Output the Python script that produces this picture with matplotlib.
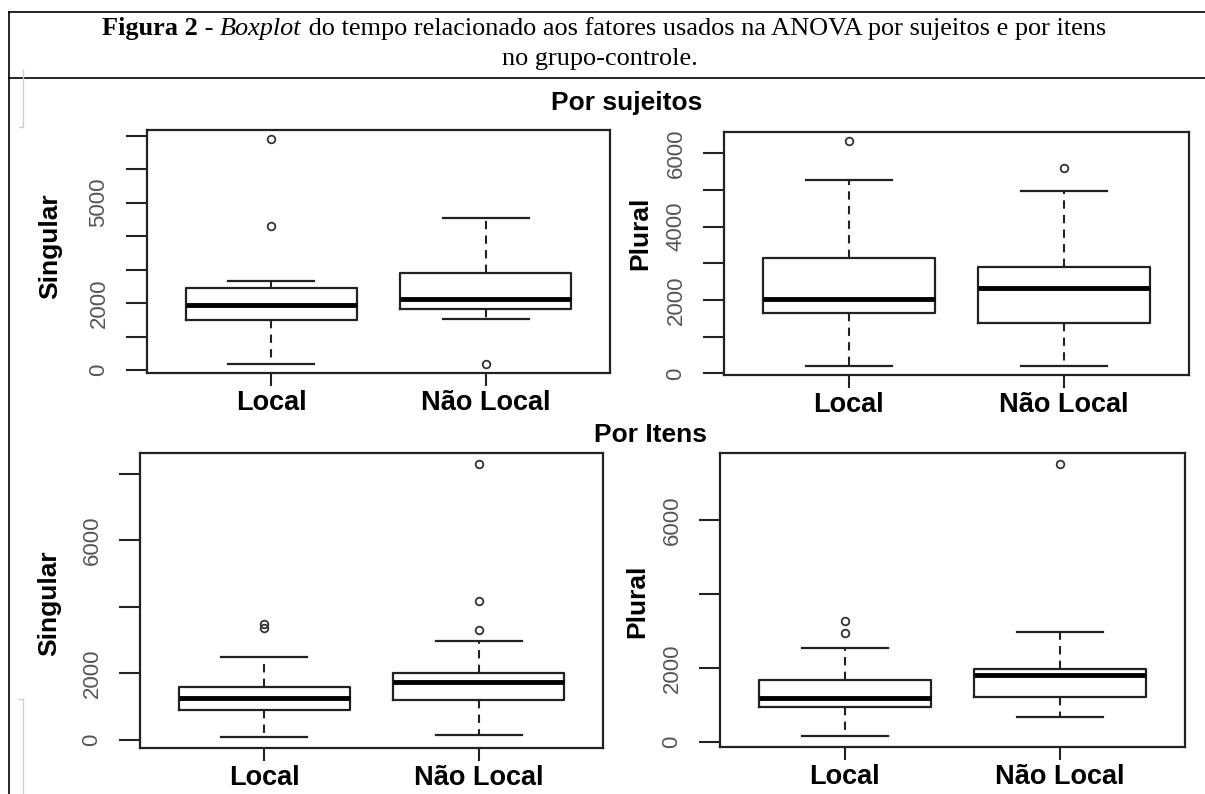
import matplotlib
matplotlib.use('Agg')
import matplotlib.pyplot as plt
from matplotlib.lines import Line2D

W, H = 1205, 794

categorias = ['Local', 'Não Local']

# Por sujeitos - Singular
suj_sing_whislo = [180, 1520]
suj_sing_q1 = [1490, 1820]
suj_sing_med = [1940, 2115]
suj_sing_q3 = [2460, 2910]
suj_sing_whishi = [2660, 4540]
suj_sing_fliers = [[6900, 4300], [180]]
suj_sing_ticks = [0, 1000, 2000, 3000, 4000, 5000, 6000, 7000]
suj_sing_labels = ['0', '', '2000', '', '', '5000', '', '']

# Por sujeitos - Plural
suj_plur_whislo = [200, 200]
suj_plur_q1 = [1655, 1382]
suj_plur_med = [2018, 2318]
suj_plur_q3 = [3155, 2900]
suj_plur_whishi = [5264, 4973]
suj_plur_fliers = [[6336], [5610]]
suj_plur_ticks = [0, 1000, 2000, 3000, 4000, 5000, 6000]
suj_plur_labels = ['0', '', '2000', '', '4000', '', '6000']

# Por itens - Singular
it_sing_whislo = [81, 152]
it_sing_q1 = [889, 1192]
it_sing_med = [1263, 1727]
it_sing_q3 = [1596, 2000]
it_sing_whishi = [2485, 2960]
it_sing_fliers = [[3495, 3364], [8293, 4172, 3313]]
it_sing_ticks = [0, 2000, 4000, 6000, 8000]
it_sing_labels = ['0', '2000', '', '6000', '']

# Por itens - Plural
it_plur_whislo = [154, 680]
it_plur_q1 = [934, 1215]
it_plur_med = [1179, 1814]
it_plur_q3 = [1678, 1977]
it_plur_whishi = [2522, 2975]
it_plur_fliers = [[3265, 2948], [7510]]
it_plur_ticks = [0, 2000, 4000, 6000]
it_plur_labels = ['0', '2000', '', '6000']


def fx(px):
    return px / W


def fy(py):
    return 1 - py / H


fig = plt.figure(figsize=(12.05, 7.94), dpi=100)

LINE = '#222222'


def painel(box, whislo, q1, med, q3, whishi, fliers, ticks, labels):
    x0, y0, x1, y1 = box
    ax = fig.add_axes([fx(x0), fy(y1), (x1 - x0) / W, (y1 - y0) / H])
    stats = []
    for i in range(2):
        stats.append(dict(label=categorias[i], whislo=whislo[i], q1=q1[i], med=med[i],
                          q3=q3[i], whishi=whishi[i], fliers=fliers[i]))
    ax.bxp(stats, positions=[1, 2], widths=0.8, capwidths=0.4,
           boxprops=dict(color=LINE, lw=1.6),
           whiskerprops=dict(color=LINE, lw=1.5, linestyle=(0, (4, 3))),
           capprops=dict(color=LINE, lw=1.6),
           medianprops=dict(color='black', lw=3.5),
           flierprops=dict(marker='o', markersize=5.5, markerfacecolor='none',
                           markeredgecolor='#333333', markeredgewidth=1.3))
    allv = whislo + whishi + [v for f in fliers for v in f]
    lo, hi = min(allv), max(allv)
    pad = 0.04 * (hi - lo)
    ax.set_ylim(lo - pad, hi + pad)
    ax.set_xlim(0.42, 2.58)
    ax.set_yticks(ticks)
    ax.set_yticklabels(labels, rotation=90, va='center', fontsize=16,
                       color='#555555', family='Liberation Sans')
    ax.set_xticks([1, 2])
    ax.set_xticklabels(categorias, fontsize=19.5, fontweight='bold',
                       family='Liberation Sans')
    ax.tick_params(axis='y', length=15, width=1.5, color=LINE, pad=12)
    ax.tick_params(axis='x', length=9.5, width=1.5, color=LINE, pad=3)
    for s in ax.spines.values():
        s.set_linewidth(1.6)
        s.set_color(LINE)
    return ax


painel((147, 130, 610, 373), suj_sing_whislo, suj_sing_q1, suj_sing_med, suj_sing_q3,
       suj_sing_whishi, suj_sing_fliers, suj_sing_ticks, suj_sing_labels)
painel((724, 132, 1189, 375), suj_plur_whislo, suj_plur_q1, suj_plur_med, suj_plur_q3,
       suj_plur_whishi, suj_plur_fliers, suj_plur_ticks, suj_plur_labels)
painel((140, 453, 603, 748), it_sing_whislo, it_sing_q1, it_sing_med, it_sing_q3,
       it_sing_whishi, it_sing_fliers, it_sing_ticks, it_sing_labels)
painel((720, 453, 1185, 747), it_plur_whislo, it_plur_q1, it_plur_med, it_plur_q3,
       it_plur_whishi, it_plur_fliers, it_plur_ticks, it_plur_labels)

# rotulos dos eixos y
for (px, py, txt) in [(50, 246, 'Singular'), (640, 233, 'Plural'),
                      (49, 603, 'Singular'), (637, 601, 'Plural')]:
    fig.text(fx(px), fy(py), txt, rotation=90, ha='center', va='center',
             fontsize=19, fontweight='bold', family='Liberation Sans')

# titulos das secoes
fig.text(fx(627), fy(103), 'Por sujeitos', ha='center', va='center',
         fontsize=19, fontweight='bold', family='Liberation Sans')
fig.text(fx(650), fy(435), 'Por Itens', ha='center', va='center',
         fontsize=19, fontweight='bold', family='Liberation Sans')

# legenda da figura (texto em partes)
renderer = fig.canvas.get_renderer()
partes = [('Figura 2', 'bold', 'normal'), (' - ', 'normal', 'normal'),
          ('Boxplot', 'normal', 'italic'),
          (' do tempo relacionado aos fatores usados na ANOVA por sujeitos e por itens',
           'normal', 'normal')]
objs = []
for txt, wt, st in partes:
    t = fig.text(0, fy(35), txt, fontsize=18.9, fontweight=wt, fontstyle=st,
                 family='Liberation Serif', va='baseline', ha='left')
    objs.append(t)
larg = [t.get_window_extent(renderer).width for t in objs]
x = 604 - sum(larg) / 2
for t, w in zip(objs, larg):
    t.set_x(fx(x))
    x += w
fig.text(fx(600), fy(65), 'no grupo-controle.', fontsize=18.9,
         family='Liberation Serif', va='baseline', ha='center')

# moldura
for xs, ys in [([9, 1205], [12, 12]), ([9, 1205], [78, 78]), ([9, 9], [12, 794])]:
    fig.add_artist(Line2D([fx(v) for v in xs], [fy(v) for v in ys],
                          transform=fig.transFigure, color='black', lw=1.2))
for xs, ys in [([23, 23, 19], [70, 127, 127]), ([19, 23, 23], [699, 699, 794])]:
    fig.add_artist(Line2D([fx(v) for v in xs], [fy(v) for v in ys],
                          transform=fig.transFigure, color='#cfcfcf', lw=1.0))

fig.savefig('out.png', dpi=100)
